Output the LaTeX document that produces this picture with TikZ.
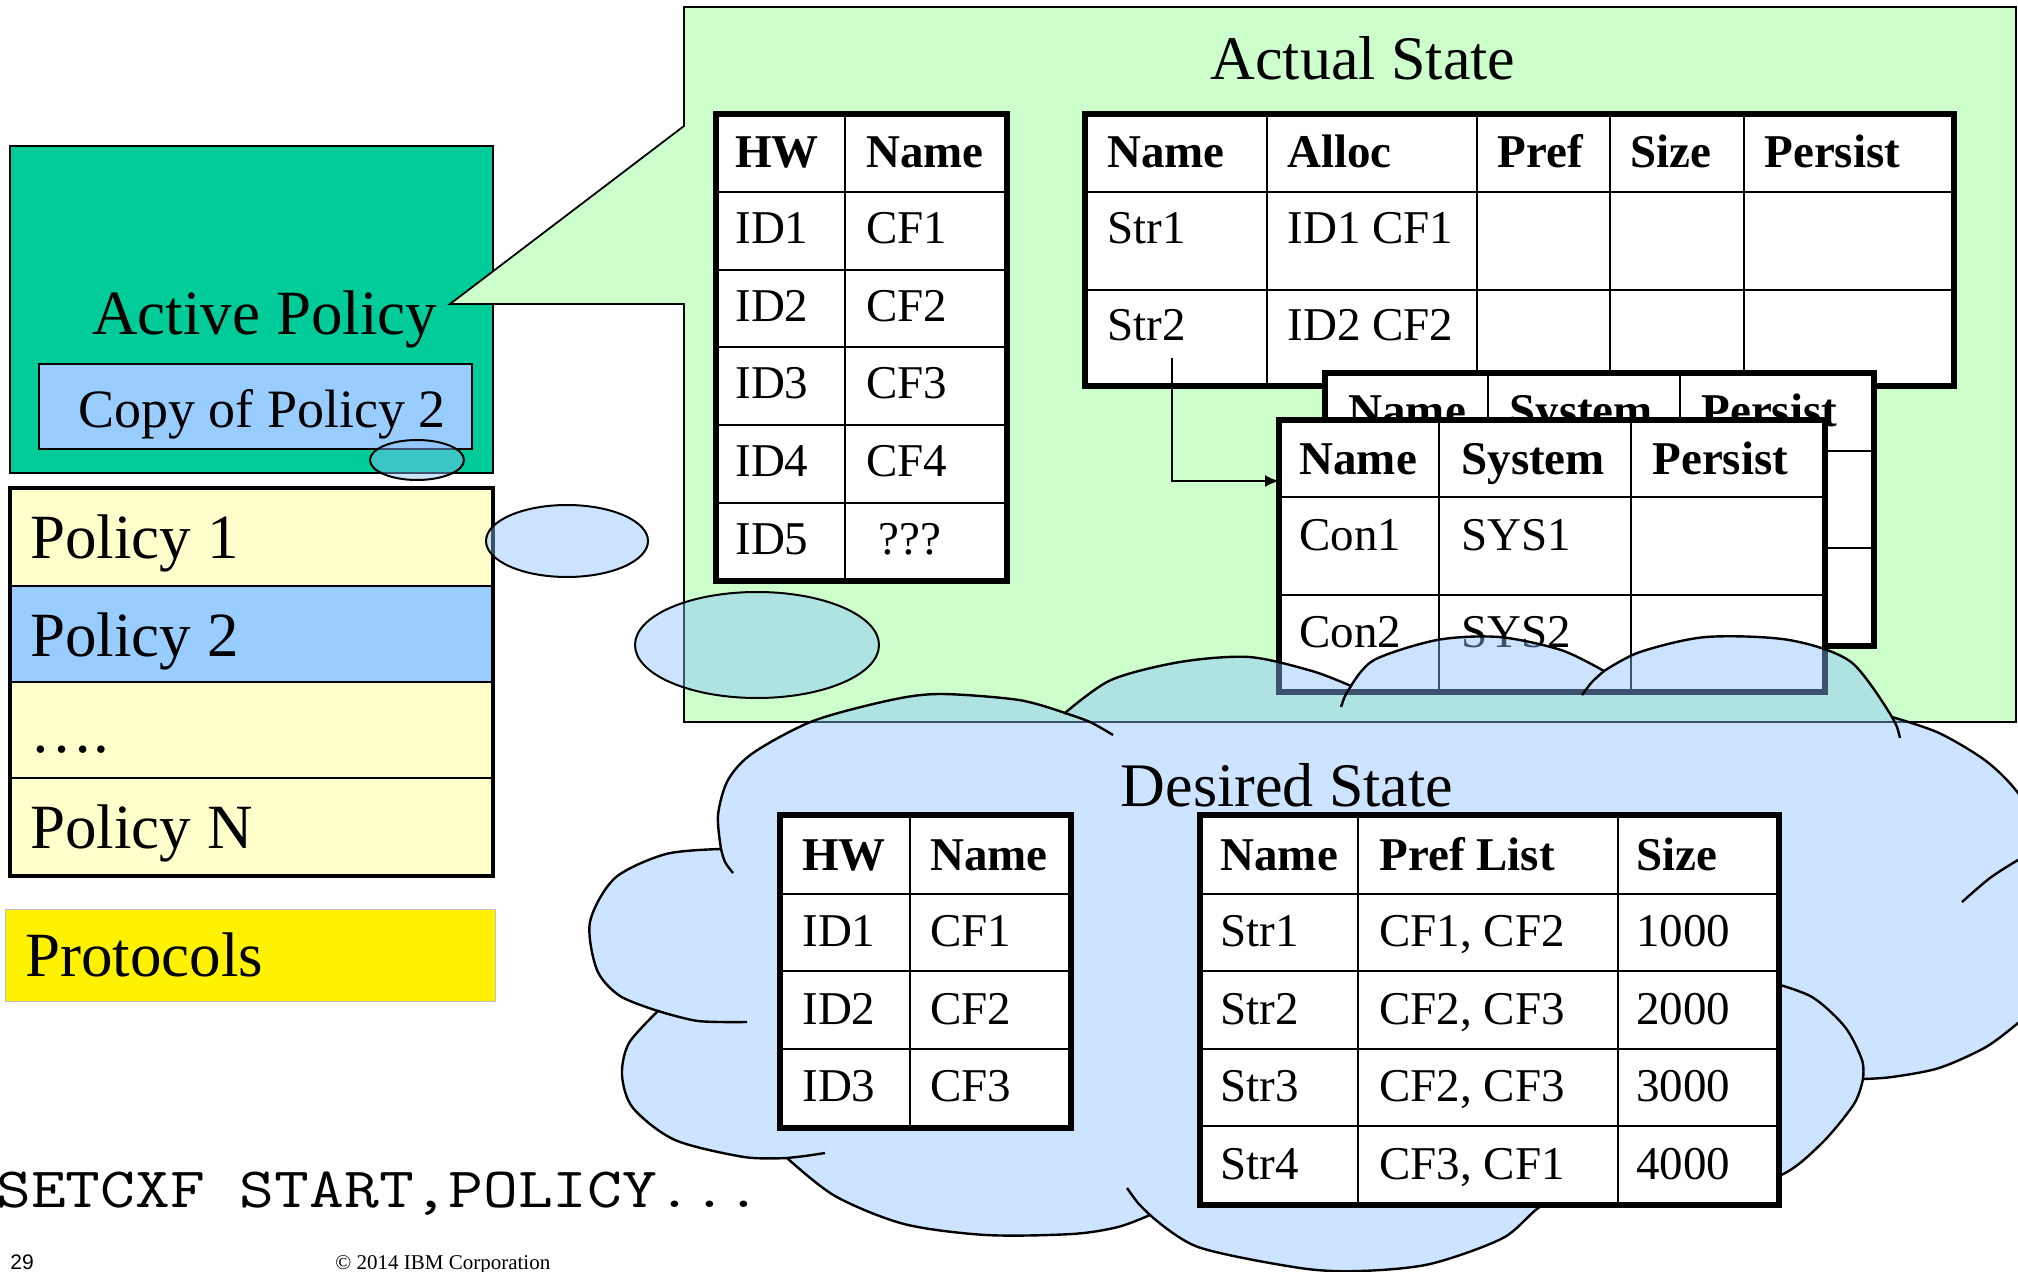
\documentclass[tikz,border=0pt]{standalone}
\usepackage{fontspec}
\setmainfont{Liberation Serif}
\newfontfamily\sansfnt{Liberation Sans}
\usetikzlibrary{arrows.meta}
\newcommand\fsz[1]{\fontsize{#1}{#1}\selectfont}
\definecolor{gbox}{HTML}{CCFFCC}
\definecolor{tealbox}{HTML}{00CC99}
\definecolor{pblue}{HTML}{99CCFF}
\definecolor{pyel}{HTML}{FFFFCC}
\definecolor{cloudc}{RGB}{136,192,255}
\begin{document}
\begin{tikzpicture}[x=0.5pt,y=-0.5pt,
  tin/.style={line width=1pt},
  tout/.style={line width=2.6pt},
  tx/.style={anchor=base west,inner sep=0pt,font=\fsz{23.5pt}},
  thd/.style={anchor=base west,inner sep=0pt,font=\fsz{23.5pt}\bfseries},
  big/.style={anchor=base west,inner sep=0pt,font=\fsz{31.5pt}},
  blob/.style={fill=cloudc,fill opacity=0.43,draw=black,line width=1pt},
  cloudline/.style={draw=black,line width=1.2pt},
  conn/.style={line width=1pt,-{Latex[length=7pt,width=6pt]}}
]
\useasboundingbox (0,0) rectangle (2018,1272);

% ---- Active policy
\draw[fill=tealbox,line width=0.8pt] (10,146) rectangle (493,473);
\node[big] (actpol) at (92,335) {Active Policy};
\draw[fill=pblue,line width=1pt] (39,364) rectangle (472,449);
\node[anchor=base west,inner sep=0pt,font=\fsz{27pt}] (copypol) at (78,428) {Copy of Policy 2};

% ---- Actual state callout box
\draw[fill=gbox,line width=0.9pt] (684,7) -- (2016,7) -- (2016,722) -- (684,722) -- (684,304) -- (450,304) -- (684,126) -- cycle;
\node[anchor=base,inner sep=0pt,font=\fsz{31pt}] (acttitle) at (1363,80) {Actual State};

% ---- Policy list
\fill[pyel] (10,488) rectangle (493,876);
\fill[pblue] (10,586) rectangle (493,682);
\draw[tin] (10,586) -- (493,586) (10,682) -- (493,682) (10,778) -- (493,778);
\draw[line width=2.2pt] (10,488) rectangle (493,876);
\node[big] (pol1) at (30,559) {Policy 1};
\node[big] (pol2) at (30,656) {Policy 2};
\node[big] (poldots) at (30,752) {….};
\node[big] (polN) at (30,848) {Policy N};

% ---- Protocols
\draw[fill=yellow,draw=black!25,line width=0.5pt] (5,909) rectangle (495,1001);
\node[big] (protocols) at (25,976) {Protocols};

% ---- Actual HW table
\fill[white] (716,114) rectangle (1007,581);
\draw[tin] (845,114) -- (845,581);
\draw[tin] \foreach \y in {192,270,347,425,503} {(716,\y) -- (1007,\y)};
\draw[tout] (716,114) rectangle (1007,581);
\node[thd] (ahw) at (735,168) {HW};
\node[thd] (aname) at (866,168) {Name};
\node[tx] (aid1) at (735,244) {ID1}; \node[tx] (acf1) at (866,244) {CF1};
\node[tx] (aid2) at (735,322) {ID2}; \node[tx] (acf2) at (866,322) {CF2};
\node[tx] (aid3) at (735,399) {ID3}; \node[tx] (acf3) at (866,399) {CF3};
\node[tx] (aid4) at (735,477) {ID4}; \node[tx] (acf4) at (866,477) {CF4};
\node[tx] (aid5) at (735,555) {ID5}; \node[tx] (aq5) at (878,555) {???};

% ---- Actual structure table
\fill[white] (1085,114) rectangle (1954,386);
\draw[tin] \foreach \x in {1267,1477,1610,1744} {(\x,114) -- (\x,386)};
\draw[tin] (1085,192) -- (1954,192) (1085,290) -- (1954,290);
\draw[tout] (1085,114) rectangle (1954,386);
\node[thd] (sname) at (1107,168) {Name};
\node[thd] (salloc) at (1287,168) {Alloc};
\node[thd] (spref) at (1497,168) {Pref};
\node[thd] (ssize) at (1630,168) {Size};
\node[thd] (spers) at (1764,168) {Persist};
\node[tx] (sstr1) at (1107,244) {Str1}; \node[tx] (salc1) at (1287,244) {ID1 CF1};
\node[tx] (sstr2) at (1107,341) {Str2}; \node[tx] (salc2) at (1287,341) {ID2 CF2};

% ---- Back connector table
\fill[white] (1325,373) rectangle (1874,646);
\draw[tin] (1488,373) -- (1488,646) (1680,373) -- (1680,646);
\draw[tin] (1325,451) -- (1874,451) (1325,548) -- (1874,548);
\draw[tout] (1325,373) rectangle (1874,646);
\node[thd] (bname) at (1348,427) {Name};
\node[thd] (bsys) at (1509,427) {System};
\node[thd] (bpers) at (1701,427) {Persist};

% ---- Front connector table
\fill[white] (1279,420) rectangle (1825,692);
\draw[tin] (1439,420) -- (1439,692) (1631,420) -- (1631,692);
\draw[tin] (1279,497) -- (1825,497) (1279,595) -- (1825,595);
\draw[tout] (1279,420) rectangle (1825,692);
\node[thd] (fname) at (1299,475) {Name};
\node[thd] (fsys) at (1461,475) {System};
\node[thd] (fpers) at (1652,475) {Persist};
\node[tx] (fcon1) at (1299,551) {Con1}; \node[tx] (fsys1) at (1461,551) {SYS1};
\node[tx] (fcon2) at (1299,647) {Con2}; \node[tx] (fsys2) at (1461,647) {SYS2};

% ---- arrow Str2 -> connector table
\coordinate (arrS) at (1172,358);
\coordinate (arrE) at (1279,481);
\draw[conn] (arrS) |- (arrE);

% ---- ellipses
\draw[blob] (417,460) ellipse [x radius=47,y radius=20];
\draw[blob] (567,541) ellipse [x radius=81,y radius=36];
\draw[blob] (757,645) ellipse [x radius=122,y radius=53];

% ---- cloud
\path[fill=cloudc,fill opacity=0.43,cloudline]
  plot[smooth] coordinates {(658,1011) (620,996) (597,970) (590,922) (615,878) (666,854) (721,849)}
  -- plot[smooth] coordinates {(721,849) (718,815) (728,780) (753,753) (813,721) (891,700) (941,694) (1019,700) (1065,713)}
  -- plot[smooth] coordinates {(1065,713) (1111,680) (1180,662) (1249,657) (1312,671) (1351,686)}
  -- plot[smooth] coordinates {(1351,686) (1374,660) (1437,640) (1499,637) (1561,650) (1604,671)}
  -- plot[smooth] coordinates {(1604,671) (1640,652) (1706,637) (1789,640) (1851,662) (1892,717)}
  -- plot[smooth] coordinates {(1892,717) (1939,733) (1986,761) (2018,793) (2045,840) (2060,900) (2070,960) (2050,1005) (2018,1023)}
  -- plot[smooth] coordinates {(2018,1023) (1986,1047) (1939,1068) (1892,1077) (1863,1079)}
  -- plot[smooth] coordinates {(1863,1079) (1854,1104) (1821,1144) (1779,1176) (1700,1195) (1590,1195)}
  -- plot[smooth] coordinates {(1590,1195) (1543,1205) (1503,1238) (1430,1264) (1360,1271) (1300,1268) (1198,1247) (1150,1215)}
  -- plot[smooth] coordinates {(1150,1215) (1118,1227) (1072,1234) (986,1235) (904,1224) (835,1196) (787,1158)}
  -- plot[smooth] coordinates {(787,1158) (744,1157) (675,1140) (633,1108) (622,1075) (629,1043) (658,1011)}
  -- cycle;
% inner tails of the cloud
\draw[cloudline] plot[smooth] coordinates {(721,849) (725,862) (733,873)};
\draw[cloudline] plot[smooth] coordinates {(1065,713) (1090,722) (1113,735)};
\draw[cloudline] plot[smooth] coordinates {(1341,707) (1345,696) (1351,686)};
\draw[cloudline] plot[smooth] coordinates {(1582,695) (1592,682) (1604,671)};
\draw[cloudline] plot[smooth] coordinates {(1892,717) (1897,727) (1900,738)};
\draw[cloudline] plot[smooth] coordinates {(1962,902) (1990,878) (2018,860) (2040,848)};
\draw[cloudline] plot[smooth] coordinates {(1863,1079) (1862,1060) (1845,1027) (1812,997) (1770,982)};
\draw[cloudline] plot[smooth] coordinates {(1127,1188) (1138,1203) (1150,1215)};
\draw[cloudline] plot[smooth] coordinates {(787,1158) (805,1156) (825,1153)};
\draw[cloudline] plot[smooth] coordinates {(658,1011) (698,1021) (747,1022)};

\node[anchor=base,inner sep=0pt,font=\fsz{31pt}] (destitle) at (1287,806) {Desired State};

% ---- Desired HW table
\fill[white] (780,815) rectangle (1071,1128);
\draw[tin] (910,815) -- (910,1128);
\draw[tin] \foreach \y in {894,971,1049} {(780,\y) -- (1071,\y)};
\draw[tout] (780,815) rectangle (1071,1128);
\node[thd] (dhw) at (802,870) {HW};
\node[thd] (dname) at (930,870) {Name};
\node[tx] (did1) at (802,946) {ID1}; \node[tx] (dcf1) at (930,946) {CF1};
\node[tx] (did2) at (802,1024) {ID2}; \node[tx] (dcf2) at (930,1024) {CF2};
\node[tx] (did3) at (802,1101) {ID3}; \node[tx] (dcf3) at (930,1101) {CF3};

% ---- Desired structure table
\fill[white] (1200,815) rectangle (1779,1205);
\draw[tin] (1358,815) -- (1358,1205) (1618,815) -- (1618,1205);
\draw[tin] \foreach \y in {894,971,1049,1126} {(1200,\y) -- (1779,\y)};
\draw[tout] (1200,815) rectangle (1779,1205);
\node[thd] (pname) at (1220,870) {Name};
\node[thd] (plist) at (1379,870) {Pref List};
\node[thd] (psize) at (1636,870) {Size};
\node[tx] (pstr1) at (1220,946) {Str1}; \node[tx] (pl1) at (1379,946) {CF1, CF2}; \node[tx] (ps1) at (1636,946) {1000};
\node[tx] (pstr2) at (1220,1024) {Str2}; \node[tx] (pl2) at (1379,1024) {CF2, CF3}; \node[tx] (ps2) at (1636,1024) {2000};
\node[tx] (pstr3) at (1220,1101) {Str3}; \node[tx] (pl3) at (1379,1101) {CF2, CF3}; \node[tx] (ps3) at (1636,1101) {3000};
\node[tx] (pstr4) at (1220,1179) {Str4}; \node[tx] (pl4) at (1379,1179) {CF3, CF1}; \node[tx] (ps4) at (1636,1179) {4000};

% ---- command and footer
\node[anchor=base west,inner sep=0pt,font=\ttfamily\fsz{28.5pt}] (cmd) at (-4,1207) {\scalebox{1.185}[1]{SETCXF START,POLICY...}};
\node[anchor=base west,inner sep=0pt,font=\sansfnt\fsz{10.5pt}] (pgno) at (10,1269) {29};
\node[anchor=base west,inner sep=0pt,font=\fsz{10.5pt}] (copyr) at (335,1269) {© 2014 IBM Corporation};
\end{tikzpicture}
\end{document}
